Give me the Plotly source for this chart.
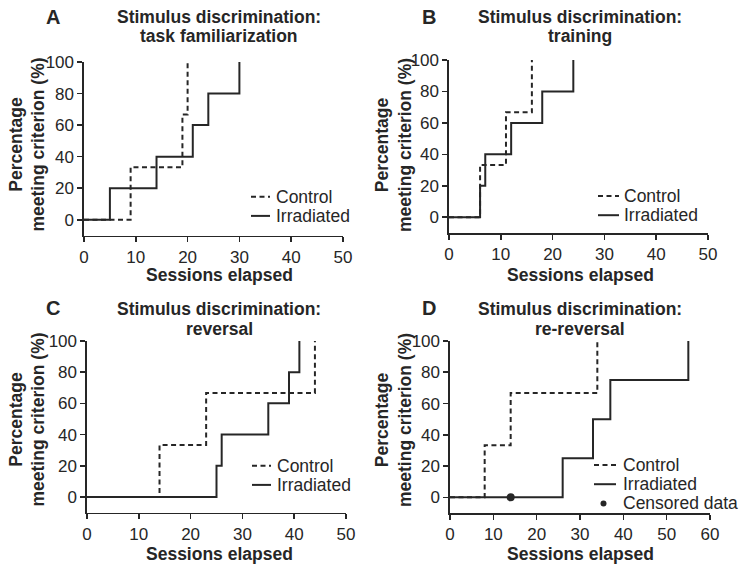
import plotly.graph_objects as go

# ---------------- data ----------------
sessions_ticks_50 = [0, 10, 20, 30, 40, 50]
sessions_ticks_60 = [0, 10, 20, 30, 40, 50, 60]
pct_ticks = [0, 20, 40, 60, 80, 100]

# Panel A: task familiarization
a_ctrl_x = [0, 9, 19, 20]
a_ctrl_y = [0, 33.3, 66.7, 100]
a_irr_x = [0, 5, 14, 21, 24, 30]
a_irr_y = [0, 20, 40, 60, 80, 100]

# Panel B: training
b_ctrl_x = [0, 6, 11, 16]
b_ctrl_y = [0, 33.3, 66.7, 100]
b_irr_x = [0, 6, 7, 12, 18, 24]
b_irr_y = [0, 20, 40, 60, 80, 100]

# Panel C: reversal
c_ctrl_x = [0, 14, 23, 44]
c_ctrl_y = [0, 33.3, 66.7, 100]
c_irr_x = [0, 25, 26, 35, 39, 41]
c_irr_y = [0, 20, 40, 60, 80, 100]

# Panel D: re-reversal
d_ctrl_x = [0, 8, 14, 34]
d_ctrl_y = [0, 33.3, 66.7, 100]
d_irr_x = [0, 26, 33, 37, 55]
d_irr_y = [0, 25, 50, 75, 100]
d_cens_x = [14]
d_cens_y = [0]

titles = [
    ("A", "Stimulus discrimination:", "task familiarization"),
    ("B", "Stimulus discrimination:", "training"),
    ("C", "Stimulus discrimination:", "reversal"),
    ("D", "Stimulus discrimination:", "re-reversal"),
]

# ---------------- layout helpers ----------------
W, H = 745, 571
INK = "#262626"
FONT = "Liberation Sans, Arial, sans-serif"


def px(x):
    return x / W


def py(y):
    return 1 - y / H


# plot areas in pixels: (x at 0, x at max, y at 100, y at -10)
panels = [
    dict(x0=84, x1=343, yt=62, yb=235.5, xmax=50, ticks=sessions_ticks_50),
    dict(x0=449, x1=708, yt=60, yb=233, xmax=50, ticks=sessions_ticks_50),
    dict(x0=87, x1=346, yt=341, yb=512.5, xmax=50, ticks=sessions_ticks_50),
    dict(x0=450, x1=710, yt=341, yb=513, xmax=60, ticks=sessions_ticks_60),
]

fig = go.Figure()

series = [
    (a_ctrl_x, a_ctrl_y, a_irr_x, a_irr_y),
    (b_ctrl_x, b_ctrl_y, b_irr_x, b_irr_y),
    (c_ctrl_x, c_ctrl_y, c_irr_x, c_irr_y),
    (d_ctrl_x, d_ctrl_y, d_irr_x, d_irr_y),
]

DASH = "5px,3.5px"

for i, (cx, cy, ix, iy) in enumerate(series):
    sfx = "" if i == 0 else str(i + 1)
    fig.add_trace(go.Scatter(x=ix, y=iy, mode="lines", line_shape="hv",
                             line=dict(color=INK, width=2),
                             name="Irradiated", showlegend=False,
                             xaxis="x" + sfx, yaxis="y" + sfx))
    fig.add_trace(go.Scatter(x=cx, y=cy, mode="lines", line_shape="hv",
                             line=dict(color=INK, width=2, dash=DASH),
                             name="Control", showlegend=False,
                             xaxis="x" + sfx, yaxis="y" + sfx))

fig.add_trace(go.Scatter(x=d_cens_x, y=d_cens_y, mode="markers",
                         marker=dict(color=INK, size=8),
                         name="Censored data", showlegend=False,
                         cliponaxis=False, xaxis="x4", yaxis="y4"))

layout = dict(
    template="none",
    width=W, height=H, autosize=False,
    margin=dict(l=0, r=0, t=0, b=0, pad=0),
    paper_bgcolor="white", plot_bgcolor="white",
    font=dict(family=FONT, color=INK, size=17),
    showlegend=False,
)

annotations = []
shapes = []

for i, p in enumerate(panels):
    sfx = "" if i == 0 else str(i + 1)
    xa = dict(domain=[px(p["x0"]), px(p["x1"])], range=[0, p["xmax"]],
              tickvals=p["ticks"], showline=True, linecolor=INK, linewidth=1.6,
              ticks="outside", ticklen=5, tickwidth=1.6, tickcolor=INK,
              showgrid=False, zeroline=False, fixedrange=True, automargin=False,
              tickfont=dict(size=17, color=INK),
              anchor="y" + sfx)
    ya = dict(domain=[py(p["yb"]), py(p["yt"])], range=[-10, 100],
              tickvals=pct_ticks, showline=True, linecolor=INK, linewidth=1.6,
              ticks="outside", ticklen=5, tickwidth=1.6, tickcolor=INK,
              showgrid=False, zeroline=False, fixedrange=True, automargin=False,
              tickfont=dict(size=17, color=INK),
              anchor="x" + sfx)
    layout["xaxis" + sfx] = xa
    layout["yaxis" + sfx] = ya

    # panel letter and title
    letter, t1, t2 = titles[i]
    left = i % 2 == 0
    top = i < 2
    lx = 53 if left else 429
    ly = 17 if top else 308
    tcx = 219 if left else 580
    t1y = 16.5 if top else 309
    t2y = 36 if top else 329
    annotations.append(dict(text=letter, x=px(lx), y=py(ly), xref="paper", yref="paper",
                            showarrow=False, xanchor="center", yanchor="middle",
                            font=dict(size=20, weight="bold", color=INK)))
    annotations.append(dict(text=t1, x=px(tcx), y=py(t1y), xref="paper", yref="paper",
                            showarrow=False, xanchor="center", yanchor="middle",
                            font=dict(size=17.5, weight="bold", color=INK)))
    annotations.append(dict(text=t2, x=px(tcx), y=py(t2y), xref="paper", yref="paper",
                            showarrow=False, xanchor="center", yanchor="middle",
                            font=dict(size=17.5, weight="bold", color=INK)))
    # x axis title
    xty = 275 if top else 553.5
    annotations.append(dict(text="Sessions elapsed", x=px(tcx), y=py(xty),
                            xref="paper", yref="paper", showarrow=False,
                            xanchor="center", yanchor="middle",
                            font=dict(size=17.5, weight="bold", color=INK)))
    # y axis title
    ytx = 26.5 if left else 393
    yty = 145 if top else 420
    annotations.append(dict(text="Percentage<br>meeting criterion (%)",
                            x=px(ytx), y=py(yty), xref="paper", yref="paper",
                            showarrow=False, textangle=-90,
                            xanchor="center", yanchor="middle",
                            font=dict(size=17.5, weight="bold", color=INK)))

# manual legends (sample start x, sample end x, text x, row y of first entry)
legends = [
    dict(s0=251, s1=270, tx=274, y0=196.7, rows=["Control", "Irradiated"]),
    dict(s0=598, s1=619, tx=622, y0=196, rows=["Control", "Irradiated"]),
    dict(s0=252, s1=271, tx=275, y0=465.7, rows=["Control", "Irradiated"]),
    dict(s0=594, s1=616, tx=621, y0=465, rows=["Control", "Irradiated", "Censored data"]),
]
ROW = 19.2
for lg in legends:
    for r, label in enumerate(lg["rows"]):
        yy = lg["y0"] + r * ROW
        if label == "Censored data":
            shapes.append(dict(type="circle", xref="paper", yref="paper",
                               x0=px(603.5 - 3), x1=px(603.5 + 3),
                               y0=py(yy + 3), y1=py(yy - 3),
                               fillcolor=INK, line=dict(width=0)))
        else:
            shapes.append(dict(type="line", xref="paper", yref="paper",
                               x0=px(lg["s0"]), x1=px(lg["s1"]),
                               y0=py(yy), y1=py(yy),
                               line=dict(color=INK, width=2,
                                         dash=DASH if label == "Control" else "solid")))
        annotations.append(dict(text=label, x=px(lg["tx"]), y=py(yy),
                                xref="paper", yref="paper", showarrow=False,
                                xanchor="left", yanchor="middle",
                                font=dict(size=17.5, color=INK)))

layout["annotations"] = annotations
layout["shapes"] = shapes
fig.update_layout(**layout)

fig.write_html("out.html",
               config={"displayModeBar": False, "staticPlot": True},
               post_script="document.body.style.margin='0px';document.body.style.overflow='hidden';")
